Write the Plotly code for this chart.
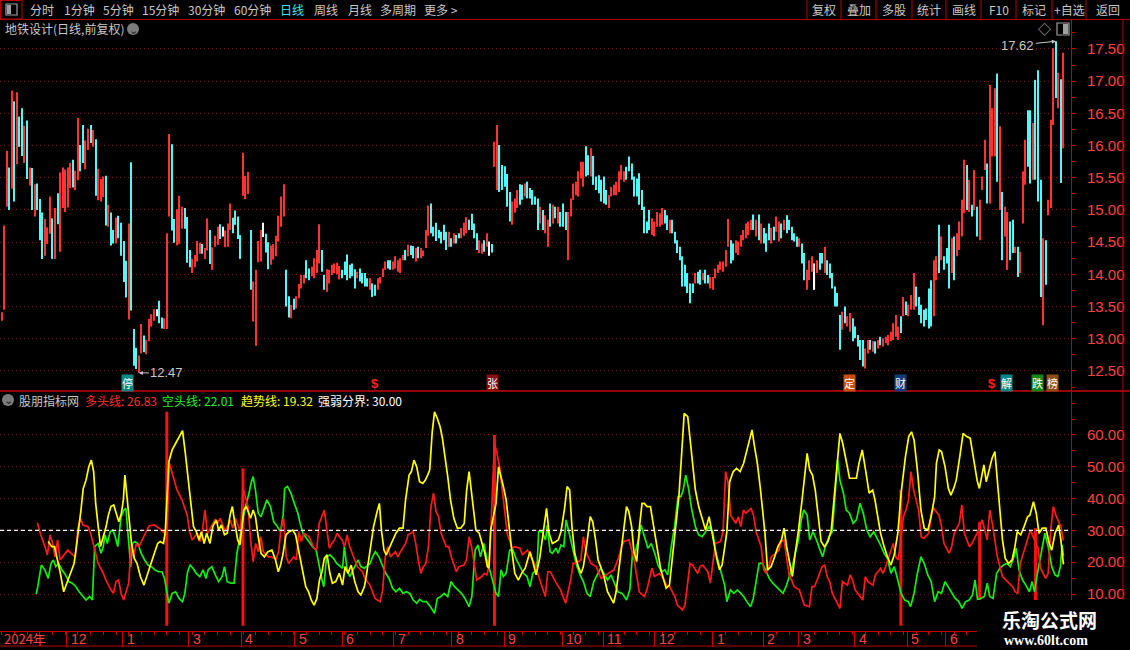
import plotly.graph_objects as go

W, H = 1130, 650

# ---------------- price data (daily bars) ----------------
highs = [
    13.41, 14.76, 15.92, 15.66, 16.85, 16.69, 16.83, 16.45, 16.58, 16.31,
    16.39, 15.66, 15.65, 15.40, 15.41, 15.17, 14.96, 14.86, 14.73, 15.21,
    14.87, 15.03, 15.26, 15.58, 15.66, 15.63, 15.66, 15.73, 15.78, 15.61,
    16.43, 16.01, 16.32, 16.08, 16.26, 16.32, 16.24, 16.10, 15.64, 15.48,
    15.52, 15.53, 15.08, 14.96, 14.69, 14.88, 14.91, 14.80, 14.52, 14.21,
    14.79, 15.74, 13.15, 12.86, 12.74, 13.23, 13.05, 12.98, 13.31, 13.38,
    13.46, 13.46, 13.59, 13.33, 13.32, 14.64, 16.18, 16.02, 14.86, 15.01,
    15.22, 15.05, 15.03, 14.89, 14.38, 14.24, 14.30, 14.52, 14.49, 14.47,
    14.41, 14.87, 14.69, 14.42, 14.60, 14.74, 14.78, 14.74, 14.68, 14.79,
    15.10, 14.88, 14.99, 14.90, 14.61, 15.89, 15.53, 15.59, 14.69, 13.89,
    14.07, 14.52, 14.69, 14.80, 14.63, 14.50, 14.45, 14.47, 14.60, 14.91,
    15.21, 15.40, 14.07, 13.66, 13.53, 13.62, 13.66, 13.85,
    13.99, 13.99, 14.22, 14.09, 14.12, 14.25, 14.38, 14.78, 14.38, 13.99,
    14.08, 14.07, 14.15, 14.17, 14.18, 14.13, 14.07, 14.20, 14.31, 14.15,
    14.17, 14.08, 14.04, 14.09, 14.02, 14.02, 13.94, 13.94, 13.86, 13.84,
    13.94, 13.96, 14.09, 14.20, 14.22, 14.22, 14.20, 14.28, 14.22, 14.25,
    14.30, 14.38, 14.46, 14.45, 14.44, 14.41, 14.43, 14.41, 14.37, 14.69,
    15.07, 15.10, 14.74, 14.80, 14.69, 14.66, 14.77, 14.66, 14.66, 14.56,
    14.64, 14.61, 14.64, 14.72, 14.80, 14.89, 14.85, 14.94, 14.79, 14.64,
    14.53, 14.48, 14.53, 14.64, 14.51, 14.47,
    16.06, 16.32, 16.01, 15.70, 15.68, 15.56, 15.28, 15.13, 15.18, 15.31,
    15.40, 15.39, 15.41, 15.44, 15.34, 15.31, 15.21, 15.18, 15.05, 15.00,
    14.92, 14.85, 15.10, 15.08, 15.05, 15.05, 14.97, 15.10, 14.97, 14.97,
    15.18, 15.41, 15.44, 15.60, 15.75, 15.75, 15.99, 15.85, 15.96, 15.84,
    15.52, 15.54, 15.47, 15.52, 15.31, 15.23, 15.36, 15.39, 15.44, 15.60,
    15.70, 15.60, 15.67, 15.83, 15.72, 15.52, 15.49, 15.57, 15.31, 15.05,
    14.82, 15.00, 14.87, 14.82, 14.97, 14.95, 15.03, 15.00, 14.92, 14.85,
    14.85, 14.66, 14.53, 14.43, 14.28, 14.15, 14.02, 13.86, 13.86, 14.02,
    14.04, 14.07, 14.02, 14.07, 13.99, 13.96, 13.96, 14.09, 14.15,
    14.20, 14.20, 14.38, 14.86, 14.53, 14.48, 14.53, 14.51, 14.61, 14.69,
    14.79, 14.82, 14.85, 14.93, 14.85, 14.93, 14.79, 14.72, 14.64, 14.79,
    14.72, 14.74, 14.90, 14.82, 14.79, 14.85, 14.92, 14.85, 14.74, 14.64,
    14.59, 14.56, 14.48, 14.33, 14.07, 14.22, 14.28, 14.17, 14.22, 14.33,
    14.33, 14.43, 14.22, 14.17, 14.02, 13.81, 13.71, 13.37, 13.42,
    13.50, 13.35, 13.40, 13.32, 13.19, 13.06, 12.98, 12.98, 12.85, 12.98,
    12.98, 12.96, 12.96, 12.98, 13.03, 13.01, 13.03, 13.06, 13.11, 13.24,
    13.37, 13.19, 13.35, 13.65, 13.58, 13.53, 13.68, 14.02, 13.81, 13.65,
    13.53, 13.45, 13.47, 13.78, 13.91, 14.22, 14.28, 14.77, 14.59, 14.28,
    14.41, 14.77, 14.56, 14.59, 14.64, 14.82, 15.16, 15.78, 15.70,
    15.47, 15.08, 15.62, 15.05, 15.16, 15.52, 16.09, 15.72, 16.94, 16.58,
    16.89, 17.12, 16.30, 15.28, 15.05, 14.97, 14.82, 14.85, 14.43, 14.43,
    14.35, 15.60, 16.09, 16.55, 16.55, 16.35, 17.02, 17.17, 15.47,
    14.56, 14.53, 15.16, 16.40, 17.51, 17.62, 17.13, 17.03, 17.44,
]
lows = [
    13.28, 13.45, 15.05, 15.00, 15.33, 15.13, 15.71, 15.98, 15.84, 15.73,
    15.48, 15.38, 15.00, 14.90, 15.00, 14.53, 14.24, 14.29, 14.47, 14.63,
    14.24, 14.24, 14.78, 14.35, 15.03, 14.97, 15.04, 15.34, 15.35, 15.31,
    15.46, 15.60, 15.73, 15.63, 15.93, 16.04, 15.98, 15.22, 15.15, 15.13,
    15.20, 14.76, 14.74, 14.45, 14.48, 14.48, 14.56, 14.29, 13.88, 13.64,
    13.30, 13.44, 12.58, 12.53, 12.47, 12.77, 12.79, 12.76, 12.96, 13.19,
    13.28, 13.35, 13.24, 13.16, 13.15, 13.15, 14.90, 14.68, 14.49, 14.45,
    14.47, 14.71, 14.71, 14.18, 14.11, 14.02, 14.11, 14.20, 14.32, 14.32,
    14.24, 14.37, 14.16, 14.07, 14.43, 14.46, 14.55, 14.59, 14.42, 14.43,
    14.69, 14.64, 14.77, 14.55, 14.24, 15.22, 15.17, 15.25, 13.76, 13.27,
    12.89, 14.19, 14.20, 14.58, 14.34, 14.08, 14.15, 14.23, 14.28, 14.51,
    14.74, 14.90, 13.50, 13.33, 13.32, 13.45, 13.47, 13.63,
    13.78, 13.86, 13.94, 13.91, 13.97, 13.94, 14.02, 14.17, 14.04, 13.76,
    13.73, 13.86, 13.99, 14.02, 14.00, 13.92, 13.94, 13.99, 13.91, 13.94,
    13.97, 13.78, 13.94, 13.89, 13.86, 13.81, 13.81, 13.76, 13.65, 13.67,
    13.76, 13.86, 13.96, 14.07, 14.09, 14.07, 14.07, 14.09, 14.04, 14.02,
    14.22, 14.22, 14.28, 14.30, 14.25, 14.20, 14.25, 14.25, 14.28, 14.41,
    14.60, 14.64, 14.59, 14.52, 14.56, 14.48, 14.53, 14.38, 14.43, 14.43,
    14.48, 14.48, 14.56, 14.56, 14.60, 14.64, 14.69, 14.69, 14.56, 14.38,
    14.33, 14.32, 14.35, 14.43, 14.29, 14.34,
    15.67, 15.31, 15.28, 15.31, 15.36, 15.05, 14.82, 14.77, 14.96, 15.03,
    15.08, 15.16, 15.21, 15.18, 15.18, 15.08, 15.08, 14.69, 14.79, 14.69,
    14.64, 14.43, 14.74, 14.79, 14.87, 14.79, 14.74, 14.74, 14.69, 14.22,
    14.90, 15.16, 15.23, 15.21, 15.49, 15.36, 15.52, 15.54, 15.52, 15.39,
    15.31, 15.26, 15.13, 15.10, 15.08, 15.03, 15.21, 15.23, 15.23, 15.28,
    15.47, 15.44, 15.47, 15.60, 15.47, 15.21, 15.21, 15.08, 15.00, 14.64,
    14.64, 14.69, 14.61, 14.59, 14.74, 14.74, 14.77, 14.79, 14.69, 14.64,
    14.64, 14.48, 14.33, 14.22, 13.81, 13.81, 13.71, 13.55, 13.71, 13.86,
    13.86, 13.84, 13.91, 13.86, 13.86, 13.78, 13.76, 13.94, 14.02,
    14.07, 14.04, 14.12, 14.43, 14.17, 14.22, 14.33, 14.30, 14.43, 14.53,
    14.56, 14.61, 14.69, 14.69, 14.59, 14.53, 14.48, 14.48, 14.35, 14.53,
    14.48, 14.53, 14.66, 14.51, 14.56, 14.69, 14.64, 14.69, 14.53, 14.51,
    14.43, 14.43, 14.17, 13.91, 13.76, 13.91, 14.04, 13.76, 14.02, 14.07,
    14.17, 14.02, 13.99, 13.94, 13.78, 13.50, 13.50, 12.83, 13.14,
    13.24, 13.19, 13.11, 12.96, 13.01, 12.88, 12.67, 12.57, 12.54, 12.77,
    12.83, 12.80, 12.77, 12.85, 12.90, 12.88, 12.93, 12.90, 12.96, 12.98,
    13.03, 12.98, 13.09, 13.35, 13.37, 13.35, 13.45, 13.45, 13.50, 13.37,
    13.24, 13.19, 13.29, 13.16, 13.19, 13.35, 13.91, 14.02, 14.22, 14.07,
    14.17, 13.78, 14.02, 13.91, 14.28, 14.38, 14.59, 14.95, 15.00,
    14.97, 14.90, 15.00, 14.59, 14.53, 15.31, 15.62, 15.10, 15.10, 15.83,
    15.83, 15.44, 15.00, 14.22, 14.59, 14.07, 14.22, 14.33, 14.33, 13.96,
    14.02, 14.79, 15.39, 15.67, 15.41, 15.47, 15.47, 15.13, 13.65,
    13.21, 13.84, 14.92, 15.03, 16.32, 16.74, 16.58, 15.42, 15.96,
]
# r = up (red), c = down (cyan), w = flat (white)
dirs = (
    "rrrcrcrccr" "crcrcccrrr" "crcrrrrrcr" "rccrrcrcrr" "rcrccrcccc" "rcccrrcrrr"
    "rwccrrrccr" "rrcccrrrrc" "rrcrrrcwrr" "rccccrrrcr" "rrrwccrrrr" "rrccrcrr"
    "rrccrrrrcc" "rrrrrrcccc" "ccrccccrcc" "rrrrccrrrr" "rcrccrcrrr" "rcccccccrc"
    "rccrrrcccc" "rrcrwc"
    "rrcccccrrr" "ccrcccccrc" "rrcrcrcccr" "rrrrrrccrc" "cccccrrrrr" "rrcccccccc"
    "ccrrrrrccr" "cccccccccr" "ccrccrrrr" "rrrrccrrrr" "rrrcrcrccc" "rcrrcrcccc"
    "crccrrrwrc" "crccccccr" "crrcccccrr" "crcrcrrrrr" "rrcrcrrrcc" "cccccrrcrc"
    "ccrcrrrrc" "rcrcrrrcrr" "rcrcrrccrc" "rrrccrccc" "rcrrrcrcr"
)
price_ticks = [12.5, 13.0, 13.5, 14.0, 14.5, 15.0, 15.5, 16.0, 16.5, 17.0, 17.5]

# month boundaries (bar index) and labels
month_pos = [25.6, 47.6, 73.7, 94.4, 115.4, 134.1, 154.3, 177.1, 197.9, 220.7,
             236.9, 257.1, 279.9, 299.9, 313.7, 335.9, 356.6, 371.7]
month_txt = ["12", "1", "3", "4", "5", "6", "7", "8", "9", "10",
             "11", "12", "1", "2", "3", "4", "5", "6"]

# signal markers under the price panel
marker_x = [49.5, 147, 193.3, 333.8, 353.9, 390, 395.6, 407.6, 413.7]
marker_txt = ["停", "$", "张", "定", "财", "$", "解", "跌", "榜"]

# ---------------- indicator data ----------------
red_x = [14, 15, 17, 18, 19, 20, 21, 22, 23, 24, 26, 28, 29, 30, 31, 32, 34, 35, 37, 38,
         40, 41, 43, 44, 45, 46, 47, 48, 50, 51, 52, 53, 54, 56, 58, 60, 62, 63, 65, 66,
         68, 69, 71, 73, 74, 75, 77, 78, 79, 80, 81, 83, 84, 85, 86, 88, 89, 90, 91, 92,
         94, 95, 97, 98, 99, 100, 101, 102, 103, 105, 106, 108, 109, 110, 111, 112, 113, 115, 116, 117,
         118, 119, 121, 123, 124, 125, 127, 128, 129, 130, 131, 132, 134, 135, 136, 137, 139, 140, 142, 143,
         145, 146, 147, 149, 150, 151, 152, 153, 155, 156, 157, 159, 160, 162, 163, 164, 165, 166, 167, 168,
         169, 170, 171, 172, 173, 175, 176, 177, 179, 180, 182, 183, 184, 185, 186, 187, 189, 190, 191, 192,
         194, 195, 196, 197, 198, 199, 201, 202, 204, 205, 207, 208, 210, 211, 212,
         214, 215, 216, 218, 220, 222, 224, 225, 226, 228, 229, 230, 232, 234, 236, 237, 239, 241, 243, 244,
         245, 247, 248, 249, 251, 253, 254, 256, 257, 259, 260, 262, 263, 265, 266, 268, 269, 270, 271, 272,
         274, 275, 276, 278, 279, 281, 283, 284, 285, 286, 287, 289, 290, 291, 292, 293, 295, 296, 297, 299,
         300, 301, 302, 303, 304, 306, 307, 308, 310, 311, 312, 314, 315, 316, 318, 319, 320, 321, 323, 324,
         325, 326, 327, 329, 330, 331, 333, 334, 335, 336, 338, 339, 340, 341, 343, 344, 346, 347, 348, 350,
         351, 352, 353, 355, 356, 357, 358, 359, 361, 362, 363, 365, 366, 367, 369, 370, 371, 373, 374, 375,
         377, 378, 379, 381, 382, 384, 386, 388, 389, 390, 392, 393, 394, 396, 398, 399, 400, 401, 403, 404,
         405, 408, 409, 411, 412, 413, 414, 415, 417, 418]
red_v = [32.4, 29.6, 24.9, 22.3, 28.6, 26.1, 21.7, 27.0, 20.7, 21.7, 23.8, 22.3, 21.7, 30.7, 33.8, 31.7, 31.2, 29.1, 22.8, 19.6,
         16.5, 14.4, 11.3, 10.2, 13.9, 14.4, 10.2, 8.1, 13.4, 25.9, 21.7, 25.9, 24.9, 28.0, 31.4, 31.7, 30.7, 29.9, 28.6, 51.1,
         45.8, 42.7, 39.6, 34.8, 29.6, 27.0, 29.1, 26.5, 29.6, 36.4, 29.1, 31.7, 33.3, 32.2, 33.8, 29.6, 31.7, 33.3, 30.7, 33.8,
         29.6, 43.2, 37.5, 27.0, 20.2, 25.9, 23.3, 28.0, 23.3, 21.7, 21.7, 20.9, 23.3, 30.7, 33.8, 21.7, 19.6, 21.7, 20.7, 29.6,
         26.5, 29.1, 28.0, 24.4, 23.8, 32.2, 36.4, 30.7, 24.4, 25.9, 27.0, 29.1, 27.0, 24.9, 28.6, 24.9, 20.7, 18.6, 17.0, 14.9,
         12.8, 10.7, 8.6, 7.6, 11.3, 21.7, 24.9, 21.7, 23.3, 21.7, 23.3, 25.9, 28.6, 29.6, 25.9, 20.7, 16.5, 18.6, 19.6, 24.9,
         37.5, 41.7, 35.9, 34.3, 29.1, 24.9, 24.9, 21.7, 17.0, 18.6, 19.1, 20.7, 28.0, 24.9, 19.6, 14.4, 15.5, 16.5, 16.0, 19.1,
         57.4, 54.2, 50.0, 43.8, 36.4, 29.1, 24.4, 24.9, 24.4, 22.3, 23.8, 22.3, 19.1, 16.5, 13.9,
         9.2, 17.0, 17.0, 13.9, 11.3, 7.1, 14.4, 19.6, 19.6, 20.7, 28.0, 23.3, 19.6, 18.6, 14.9, 15.5, 16.5, 17.6, 21.7, 24.9,
         26.5, 27.0, 23.8, 20.7, 10.7, 9.2, 11.3, 18.1, 15.5, 16.5, 15.5, 12.3, 12.3, 9.2, 6.5, 5.0, 6.5, 13.4, 19.6, 19.1,
         16.5, 18.6, 19.1, 17.0, 13.4, 25.9, 26.5, 29.6, 48.5, 44.8, 34.8, 32.2, 34.3, 31.2, 36.4, 35.4, 36.9, 34.8, 29.6, 24.9,
         17.6, 16.5, 18.6, 21.7, 22.3, 23.8, 26.5, 27.0, 16.0, 14.4, 12.3, 11.3, 9.2, 6.5, 6.0, 12.3, 12.3, 14.4, 18.6, 19.1,
         15.5, 13.9, 10.2, 7.1, 5.5, 13.9, 12.8, 16.0, 14.4, 11.3, 9.2, 8.1, 15.5, 13.9, 12.8, 16.0, 18.1, 16.5, 18.6, 23.3,
         25.9, 21.7, 20.7, 34.3, 36.4, 39.6, 48.5, 42.7, 36.4, 28.0, 27.5, 29.1, 35.4, 36.9, 34.8, 31.2, 25.9, 22.8, 24.9, 29.1,
         32.2, 38.0, 29.1, 24.9, 25.9, 29.1, 33.3, 27.0, 36.4, 32.2, 21.7, 18.6, 15.5, 13.9, 12.3, 10.7, 10.2, 19.6, 24.9, 27.5,
         30.1, 24.4, 18.1, 14.9, 16.5, 30.1, 37.5, 34.8, 31.2, 26.83]

green_x = [13.6, 14.2, 15.6, 17.0, 18.3, 19.4, 20.3, 21.3, 22.4, 23.7, 25.1, 26.4, 27.8, 29.2, 30.5, 31.9, 33.2, 34.6, 35.7, 36.6,
           38.0, 39.1, 40.0, 40.7, 41.6, 42.7, 43.8, 44.7, 45.7, 47.0, 48.1, 48.9, 49.8, 50.8, 51.5, 52.5, 53.6, 54.9, 56.3, 57.6,
           59.0, 60.3, 61.7, 63.1, 64.1, 65.8, 67.1, 68.5, 69.8, 71.2, 72.1, 73.2, 74.2, 75.3, 76.6, 78.0, 79.3, 80.4, 81.3, 82.7,
           84.1, 85.4, 86.8, 87.7, 88.8, 90.2, 91.5, 92.6, 93.6, 94.9, 96.3, 97.2, 98.3, 99.0, 99.9, 101.0, 102.1, 103.0, 104.4, 105.8,
           107.1, 108.5, 109.8, 110.8, 111.4, 112.5, 113.9, 115.2, 116.6, 117.5, 118.6, 120.0, 121.3, 122.4, 123.8, 125.1, 126.1, 126.8, 127.9, 129.2,
           130.6, 131.9, 133.3, 134.2, 134.9, 136.0, 137.0, 138.3, 139.2, 140.3, 141.4, 142.8, 144.1, 145.1, 146.0, 147.1, 148.5, 149.8, 151.2, 152.5,
           153.9, 155.2, 156.6, 158.0, 159.3, 160.7, 162.0, 163.4, 164.5, 165.8, 167.2, 168.8, 170.4, 171.5, 172.9, 174.2, 175.6, 176.9, 178.3, 179.6,
           181.0, 182.4, 184.0, 185.1, 186.4, 187.5, 188.5, 189.8, 191.2, 192.5, 194.6, 195.6, 196.6, 197.5, 198.6, 200.0, 201.3, 202.7, 204.0, 205.4,
           206.8, 208.0, 209.1, 210.7, 211.4, 212.7, 214.1, 214.8, 215.9, 216.8, 218.2, 219.1, 220.2, 221.3, 222.2, 223.3, 224.9, 226.3, 227.7, 229.0,
           230.4, 231.7, 233.1, 234.4, 235.8, 237.1, 238.5, 239.9, 241.2, 242.6, 244.3, 246.0, 247.3, 248.4, 249.3, 250.7, 251.7, 253.0, 254.4, 255.7,
           257.1, 258.4, 259.8, 261.1, 262.2, 263.6, 264.9, 266.3, 267.4, 268.3, 269.3, 270.4, 271.7, 273.1, 274.4, 275.8, 277.1, 278.5, 279.9, 281.2,
           282.3, 283.2, 284.6, 285.5, 286.9, 288.3, 289.6, 291.0, 292.1, 293.4, 294.8, 295.9, 296.8, 298.2, 299.5, 300.9, 302.2, 303.6, 304.9, 306.3,
           307.6, 309.0, 310.4, 311.3, 312.4, 313.7, 314.8, 315.8, 317.1, 318.1, 319.4, 320.8, 322.2, 323.2, 324.3, 325.7, 327.0, 328.1, 329.1, 330.0,
           331.4, 332.5, 333.8, 335.2, 336.5, 337.9, 339.2, 340.6, 341.9, 343.3, 344.7, 346.0, 347.4, 348.7, 350.1, 351.4, 352.8, 354.1, 355.5, 356.9,
           357.8, 359.2, 360.5, 361.9, 363.2, 364.6, 365.9, 367.3, 368.7, 370.0, 371.4, 372.7, 374.1, 375.4, 376.8, 378.1, 379.5, 380.9, 382.2, 383.2,
           384.2, 385.6, 386.9, 388.0, 389.0, 390.3, 391.7, 393.0, 394.4, 395.8, 397.1, 398.5, 399.4, 400.5, 401.9, 403.2, 404.6, 405.7, 406.6, 408.0,
           409.3, 410.7, 412.0, 413.4, 414.7, 415.8, 416.8, 417.5, 418.0]
green_v = [10.0, 12.3, 19.1, 17.6, 14.9, 19.6, 20.7, 18.6, 19.6, 17.6, 16.0, 13.9, 13.4, 12.3, 10.7, 9.2, 8.1, 9.2, 8.1, 24.9,
           25.9, 22.8, 24.9, 28.6, 25.9, 29.6, 30.1, 28.0, 24.9, 34.3, 36.4, 36.9, 27.0, 18.6, 25.9, 26.5, 25.9, 22.8, 20.7, 19.1,
           18.6, 17.6, 17.0, 17.0, 14.9, 7.1, 10.2, 10.7, 8.6, 7.6, 10.2, 17.0, 19.1, 18.1, 16.5, 15.5, 17.6, 14.9, 17.6, 18.6,
           16.0, 13.9, 15.5, 18.6, 13.9, 13.4, 13.4, 22.8, 27.0, 33.3, 38.5, 41.1, 45.3, 46.9, 42.7, 35.4, 34.3, 36.4, 39.6, 37.5,
           32.7, 31.2, 29.6, 34.8, 43.2, 43.8, 41.7, 38.5, 35.4, 32.2, 29.1, 27.5, 25.9, 24.9, 23.8, 18.1, 14.4, 12.3, 21.7, 22.3,
           21.2, 19.6, 18.6, 18.1, 24.9, 17.6, 15.5, 17.6, 19.1, 20.7, 18.6, 18.1, 19.1, 19.6, 21.7, 23.3, 21.7, 19.1, 16.5, 14.9,
           11.8, 10.7, 11.8, 10.2, 10.7, 10.2, 8.1, 7.1, 8.3, 7.6, 7.6, 6.0, 3.9, 8.6, 9.2, 10.2, 9.2, 13.9, 12.3, 11.3,
           10.2, 8.6, 6.0, 9.2, 23.8, 25.4, 21.7, 25.9, 20.2, 16.5, 10.2, 9.2, 17.6, 15.5, 16.5, 23.8, 23.8, 20.7, 18.6, 16.5,
           15.5, 12.3, 16.5, 17.6, 29.6, 29.6, 27.0, 31.7, 23.3, 22.8, 24.4, 22.8, 25.4, 24.9, 33.3, 29.6, 23.3, 19.1, 16.0, 13.9,
           10.2, 9.2, 13.9, 16.0, 18.1, 16.5, 14.4, 16.0, 13.4, 10.7, 10.2, 8.1, 11.3, 23.3, 22.8, 27.0, 31.7, 28.0, 24.4, 25.9,
           22.8, 19.1, 17.0, 17.6, 16.0, 24.9, 31.2, 40.6, 40.6, 42.7, 47.4, 43.2, 36.4, 31.2, 28.6, 28.0, 29.6, 31.2, 29.6, 22.8,
           19.6, 17.0, 12.8, 7.6, 11.3, 10.2, 11.3, 10.2, 9.2, 7.6, 6.0, 8.6, 12.8, 19.6, 19.6, 17.0, 14.9, 13.4, 12.3, 11.3,
           10.2, 12.8, 16.5, 18.6, 22.8, 27.0, 33.3, 36.4, 34.8, 27.0, 29.6, 27.0, 23.8, 21.7, 24.9, 28.0, 29.6, 40.6, 52.1, 45.8,
           41.7, 36.4, 35.4, 32.2, 33.3, 38.5, 35.4, 30.1, 28.0, 29.6, 27.5, 25.4, 22.8, 21.2, 16.5, 18.6, 14.4, 10.2, 8.1, 7.6,
           6.0, 10.2, 16.5, 21.7, 19.6, 16.0, 13.9, 7.6, 10.7, 10.2, 13.9, 12.3, 10.2, 8.6, 7.6, 5.5, 7.6, 8.1, 9.7, 14.4,
           8.1, 8.6, 9.2, 13.4, 9.2, 8.6, 16.5, 18.1, 19.1, 19.6, 18.6, 21.7, 24.4, 17.6, 14.4, 12.8, 10.7, 13.9, 10.7, 17.6,
           23.3, 29.1, 24.9, 18.6, 16.0, 15.5, 18.6, 25.4, 22.01]

yellow_x = [18.3, 19.7, 20.8, 21.7, 23.1, 24.4, 25.8, 27.1, 28.5, 29.4, 30.2, 31.2, 32.1, 33.2, 34.3, 35.3, 36.2, 37.0, 38.0, 38.9,
            40.0, 41.1, 42.0, 43.0, 44.1, 45.2, 46.1, 47.1, 47.9, 48.5, 49.5, 50.2, 51.1, 52.2, 53.3, 54.6, 56.0, 57.3, 58.7, 60.1,
            61.4, 62.4, 63.7, 64.4, 65.8, 67.1, 68.5, 69.8, 71.2, 72.3, 73.6, 74.6, 75.5, 76.6, 77.7, 78.6, 79.7, 80.7, 82.0, 83.1,
            84.5, 85.4, 86.5, 87.7, 88.8, 89.9, 90.8, 91.8, 92.9, 93.8, 95.3, 96.3, 97.2, 98.0, 99.0, 99.9, 101.0, 102.1, 103.4, 104.8,
            106.4, 107.8, 108.9, 109.8, 110.8, 111.9, 113.2, 114.6, 115.7, 116.6, 117.5, 118.6, 119.7, 120.8, 121.9, 123.0, 124.1, 125.1, 126.1, 127.0,
            128.1, 129.2, 130.2, 131.5, 132.9, 134.2, 135.2, 136.3, 137.6, 139.0, 140.3, 141.4, 142.8, 143.7, 145.1, 146.4, 147.8, 148.7, 149.5, 150.5,
            151.4, 152.5, 153.9, 155.2, 156.6, 158.0, 159.0, 160.4, 161.3, 162.3, 163.4, 164.5, 165.8, 166.8, 167.7, 168.5, 169.5, 170.4, 171.5, 172.6,
            173.5, 174.5, 175.6, 176.7, 178.0, 179.4, 180.7, 182.1, 183.0, 184.0, 184.8, 185.7, 186.7, 188.0, 189.1, 190.2, 191.2, 191.8, 192.5, 194.6,
            195.6, 196.6, 197.5, 198.6, 199.7, 200.8, 202.0, 203.4, 204.7, 206.1, 207.4,
            208.0, 209.1, 210.4, 211.8, 213.2, 214.5, 215.5, 216.8, 218.2, 219.1, 220.2, 221.6, 222.6, 223.6, 224.5, 225.6, 227.0, 228.1, 229.0, 230.4,
            231.7, 232.7, 233.8, 234.8, 235.8, 237.1, 238.5, 239.9, 240.9, 241.9, 243.0, 243.9, 244.9, 246.0, 246.9, 248.0, 248.9, 250.0, 251.1, 252.1,
            253.0, 254.1, 255.4, 256.5, 257.5, 258.4, 259.5, 260.6, 261.6, 262.9, 264.3, 265.6, 266.6, 267.7, 268.7, 270.1, 271.0, 272.0, 273.1, 274.4,
            275.8, 277.1, 278.5, 279.6, 280.5, 281.5, 282.6, 283.6, 284.6, 285.5, 286.6, 288.0, 289.3, 290.7, 292.1, 293.4, 294.5, 295.4, 296.4, 297.5,
            298.6, 299.5, 300.5, 301.5, 302.9, 304.3, 305.6, 307.0, 308.0, 309.0, 310.4, 311.3, 312.4, 313.7, 315.1, 316.2, 317.1, 318.1, 319.2, 320.3,
            321.2, 322.6, 323.9, 325.3, 326.6, 327.6, 328.7, 330.0, 331.1, 332.5, 333.8, 335.4, 336.5, 337.5, 338.8, 340.2, 341.5, 342.9, 343.8, 344.9,
            346.0, 347.4, 348.7, 350.1, 351.4, 352.8, 354.1, 355.8, 357.1, 358.2, 359.2, 360.5, 361.9, 363.2, 364.6, 365.9, 367.3, 368.0, 369.1, 370.0,
            371.4, 372.7, 373.7, 374.8, 375.8, 377.2, 378.5, 379.9, 381.3, 382.6, 384.0, 384.9, 385.9, 386.7, 387.6, 389.0, 389.9, 391.0, 392.1, 393.1,
            394.0, 395.1, 396.4, 397.8, 398.9, 399.8, 401.2, 402.5, 403.9, 404.8, 406.2, 407.3, 408.4, 409.7, 411.1, 412.4, 413.4, 414.7, 416.1, 417.0,
            418.0]
yellow_v = [26.5, 24.9, 24.9, 21.7, 16.5, 10.7, 13.9, 17.0, 19.6, 24.9, 29.6, 36.4, 43.2, 45.8, 50.0, 52.1, 48.5, 38.5, 31.2, 24.9,
            28.0, 31.2, 34.8, 37.5, 38.0, 34.8, 32.7, 35.4, 39.6, 47.4, 39.6, 32.7, 25.9, 21.2, 19.6, 15.5, 12.8, 16.0, 19.1, 22.8,
            25.9, 26.5, 25.9, 29.6, 51.6, 55.3, 57.4, 59.5, 61.4, 54.2, 45.3, 37.5, 31.2, 29.6, 27.0, 29.6, 25.9, 29.1, 25.9, 31.2,
            33.3, 30.1, 31.7, 28.6, 29.1, 34.8, 37.5, 32.2, 27.0, 25.4, 36.4, 37.5, 35.4, 33.8, 36.4, 34.3, 28.0, 22.8, 21.7, 23.3,
            23.8, 20.7, 17.0, 19.1, 22.8, 28.6, 29.6, 30.1, 28.6, 24.9, 20.7, 16.5, 12.3, 10.7, 8.1, 6.5, 8.6, 14.4, 17.0, 21.2,
            22.3, 16.5, 13.4, 13.9, 16.5, 12.8, 18.6, 16.5, 19.1, 13.9, 10.7, 9.7, 12.3, 16.5, 23.8, 31.2, 35.9, 38.5, 30.1, 23.8,
            22.3, 24.4, 27.0, 29.1, 30.7, 30.7, 39.6, 47.4, 48.5, 52.1, 50.0, 45.3, 44.8, 45.8, 47.4, 49.0, 61.0, 67.3, 65.2, 62.6,
            59.0, 53.7, 46.9, 39.6, 33.8, 30.7, 30.7, 32.2, 42.2, 48.5, 43.2, 37.5, 30.1, 29.1, 25.9, 22.8, 18.6, 18.1, 30.1, 38.5,
            50.0, 46.9, 43.8, 39.6, 31.2, 23.8, 16.5, 14.4, 16.5, 18.1, 21.7,
            23.3, 20.2, 16.0, 21.2, 29.1, 36.9, 29.1, 25.9, 26.5, 27.0, 29.6, 36.9, 43.8, 42.7, 31.2, 22.8, 18.6, 16.5, 18.6, 25.9,
            34.3, 32.7, 27.0, 20.7, 18.6, 15.5, 10.7, 8.6, 7.1, 10.7, 17.6, 23.8, 29.1, 37.5, 35.9, 31.2, 23.3, 20.2, 31.2, 38.5,
            38.5, 37.5, 37.5, 31.7, 27.5, 22.8, 17.6, 14.9, 11.8, 12.8, 23.8, 33.3, 40.6, 54.2, 66.8, 65.8, 58.4, 50.0, 42.7, 37.5,
            33.3, 30.1, 34.3, 29.1, 24.9, 21.2, 17.6, 19.1, 24.4, 29.6, 45.3, 48.5, 49.5, 48.5, 51.1, 55.3, 58.4, 61.6, 56.3, 51.1,
            43.8, 36.4, 29.1, 17.6, 18.6, 21.7, 24.9, 27.0, 30.7, 24.9, 18.6, 15.5, 22.8, 30.1, 39.6, 47.4, 54.2, 49.0, 47.4, 42.7,
            36.9, 26.5, 24.9, 26.5, 30.1, 39.6, 50.0, 60.5, 57.4, 51.6, 46.4, 46.4, 46.4, 51.1, 55.3, 48.5, 41.7, 42.7, 39.6, 34.3,
            29.1, 24.9, 21.7, 19.1, 22.3, 29.1, 41.7, 53.2, 59.5, 61.0, 58.4, 49.0, 36.4, 30.7, 30.1, 34.3, 40.6, 51.1, 55.3, 54.8,
            50.0, 43.2, 41.1, 43.2, 45.8, 53.2, 60.5, 59.5, 59.0, 52.7, 45.8, 43.2, 47.9, 50.6, 45.3, 50.0, 52.7, 54.8, 44.8, 35.4,
            27.0, 21.2, 19.6, 20.7, 24.9, 29.6, 28.6, 31.2, 34.3, 34.8, 39.0, 35.4, 29.1, 30.7, 30.7, 25.9, 23.8, 29.1, 31.7, 27.0,
            19.32]

stick_x = [65, 95, 194, 354, 385, 407]
stick_top = [67.3, 49.5, 60.0, 42.7, 32.7, 30.7]
ind_ticks = [10, 20, 30, 40, 50, 60]
last_vals = [26.83, 22.01, 19.32]
threshold = 30.00

# ---------------- figure ----------------
assert len(highs) == len(lows) == len(dirs), (len(highs), len(lows), len(dirs))
assert len(red_x) == len(red_v) and len(green_x) == len(green_v) and len(yellow_x) == len(yellow_v)


def px(x):
    return x / W


def py(y):
    return 1 - y / H


XD = 1071 / W
X_RANGE = [-0.67, 420.98]
CJK = "Noto Sans CJK SC"
NUM = "Liberation Sans Narrow, Liberation Sans, Arial"
AX_RED = "#c80000"
LBL_RED = "#ff4040"
GRID = "#8c1212"

candle_col = {"r": "#ff3232", "c": "#54f6f6", "w": "#ffffff"}
n = len(highs)

fig = go.Figure()
fig.add_trace(go.Bar(x=list(range(n)), y=[h - l for h, l in zip(highs, lows)], base=lows,
                     width=0.45, marker=dict(color=[candle_col[d] for d in dirs], line=dict(width=0)),
                     xaxis="x", yaxis="y", hoverinfo="skip"))
fig.add_trace(go.Bar(x=stick_x, y=stick_top, width=1.15,
                     marker=dict(color="#ff1010", line=dict(width=0)),
                     xaxis="x2", yaxis="y2", hoverinfo="skip"))
for xs, vs, col in [(green_x, green_v, "#12ee12"), (red_x, red_v, "#ff1a1a"),
                    (yellow_x, yellow_v, "#ffff00")]:
    fig.add_trace(go.Scatter(x=xs, y=vs, mode="lines", line=dict(color=col, width=1.7),
                             xaxis="x2", yaxis="y2", hoverinfo="skip"))

fig.update_layout(
    width=W, height=H, margin=dict(l=0, r=0, t=0, b=0),
    paper_bgcolor="black", plot_bgcolor="black", showlegend=False, barmode="overlay",
    font=dict(family=CJK, size=12, color="#c8c8c8"),
    xaxis=dict(domain=[0, XD], range=X_RANGE, anchor="y", visible=False),
    yaxis=dict(domain=[py(391), py(20)], range=[12.189, 17.95], anchor="x", side="right",
               tickmode="array", tickvals=price_ticks,
               ticktext=[f"{v:.2f}" for v in price_ticks],
               ticks="outside", ticklen=4, tickcolor=AX_RED,
               showline=True, linecolor=AX_RED, linewidth=1,
               showgrid=True, gridcolor=GRID, griddash="1px,3px", gridwidth=1, zeroline=False,
               tickfont=dict(family=NUM, size=15, color=LBL_RED), ticklabelstandoff=8,
               minor=dict(dtick=0.25, tick0=0, ticks="outside", ticklen=3, tickcolor=AX_RED, showgrid=False)),
    xaxis2=dict(domain=[0, XD], range=X_RANGE, anchor="y2", showgrid=False, zeroline=False,
                showline=True, linecolor=AX_RED, ticks="outside", tickmode="array",
                tickvals=month_pos, ticklen=15, tickcolor=AX_RED, showticklabels=False,
                minor=dict(dtick=5, tick0=0, ticks="outside", ticklen=3, tickcolor=AX_RED)),
    yaxis2=dict(domain=[py(631), py(392)], range=[-1.635, 73.52], anchor="x2", side="right",
                tickmode="array", tickvals=ind_ticks, ticktext=[f"{v:.2f}" for v in ind_ticks],
                ticks="outside", ticklen=4, tickcolor=AX_RED,
                showline=True, linecolor=AX_RED, linewidth=1,
                showgrid=True, gridcolor=GRID, griddash="1px,3px", gridwidth=1, zeroline=False,
                tickfont=dict(family=NUM, size=15, color=LBL_RED), ticklabelstandoff=8,
                minor=dict(dtick=5, tick0=0, ticks="outside", ticklen=3, tickcolor=AX_RED, showgrid=False)),
)

shapes = []
line_red = dict(color="#b40000", width=1)
# frame lines
shapes.append(dict(type="line", xref="paper", yref="paper", x0=0, x1=1, y0=py(19.5), y1=py(19.5), line=line_red))
shapes.append(dict(type="line", xref="paper", yref="paper", x0=0, x1=1, y0=py(391), y1=py(391),
                   line=dict(color="#c80000", width=1.3)))
shapes.append(dict(type="line", xref="paper", yref="paper", x0=0, x1=px(977), y0=py(646), y1=py(646), line=line_red))
shapes.append(dict(type="line", xref="paper", yref="paper", x0=px(1123), x1=px(1123), y0=py(20), y1=py(600), line=line_red))
# toolbar boxes
shapes.append(dict(type="rect", xref="paper", yref="paper", x0=px(0.5), x1=px(22), y0=py(19), y1=py(0.5), line=line_red))
shapes.append(dict(type="rect", xref="paper", yref="paper", x0=px(6), x1=px(17), y0=py(15), y1=py(4),
                   line=dict(color="#a0a0a0", width=1.2)))
shapes.append(dict(type="rect", xref="paper", yref="paper", x0=px(7), x1=px(11), y0=py(14), y1=py(5),
                   fillcolor="#a0a0a0", line=dict(width=0)))
for sx in [807, 841, 876, 912, 946, 981, 1016, 1052, 1086]:
    shapes.append(dict(type="line", xref="paper", yref="paper", x0=px(sx), x1=px(sx), y0=py(19), y1=py(0), line=line_red))
# top-right small box icon
shapes.append(dict(type="rect", xref="paper", yref="paper", x0=px(1057), x1=px(1069), y0=py(35), y1=py(23),
                   line=dict(color="#a0a0a0", width=1.2)))
shapes.append(dict(type="rect", xref="paper", yref="paper", x0=px(1063), x1=px(1068), y0=py(34), y1=py(24),
                   fillcolor="#a0a0a0", line=dict(width=0)))
# round chevron icons
for cx, cy in [(133, 29), (8, 400)]:
    shapes.append(dict(type="circle", xref="paper", yref="paper", x0=px(cx - 6), x1=px(cx + 6),
                       y0=py(cy + 6), y1=py(cy - 6), fillcolor="#7c7c7c", line=dict(width=0)))
# strength threshold line
shapes.append(dict(type="line", xref="x2 domain", yref="y2", x0=0, x1=1, y0=threshold, y1=threshold,
                   line=dict(color="#ffffff", width=1.3, dash="4px,3px")))
# watermark block
shapes.append(dict(type="rect", xref="paper", yref="paper", x0=px(977), x1=1, y0=0, y1=py(600),
                   fillcolor="black", line=dict(width=0), layer="above"))

ann = []


def text(x, y, s, color="#c8c8c8", size=12, anchor="left", family=CJK, **kw):
    ann.append(dict(xref="paper", yref="paper", x=px(x), y=py(y), text=s, showarrow=False,
                    xanchor=anchor, yanchor="middle", font=dict(family=family, size=size, color=color), **kw))


for s, x in [("分时", 28), ("1分钟", 62), ("5分钟", 101), ("15分钟", 140), ("30分钟", 186),
             ("60分钟", 232), ("周线", 312), ("月线", 346), ("多周期", 378), ("更多 >", 422)]:
    text(x, 10, s)
text(278, 10, "日线", color="#3ce6ee")
for s, x in [("复权", 824), ("叠加", 859), ("多股", 894), ("统计", 929), ("画线", 964),
             ("F10", 999), ("标记", 1034), ("+自选", 1069), ("返回", 1108)]:
    text(x, 10, s, anchor="center")

text(3, 29, "地铁设计(日线,前复权)")
text(133, 29, "⌄", color="#202020", size=11, anchor="center")
text(8, 399, "⌄", color="#202020", size=11, anchor="center")
text(1044, 29, "◇", color="#b0b0b0", size=13, anchor="center")

# indicator legend
text(17, 400, "股朋指标网")
text(83, 400, f"多头线: {last_vals[0]:.2f}", color="#ff2c2c")
text(160, 400, f"空头线: {last_vals[1]:.2f}", color="#22f022")
text(239, 400, f"趋势线: {last_vals[2]:.2f}", color="#ffff20")
text(316, 400, f"强弱分界: {threshold:.2f}", color="#ffffff")

# extreme price labels
ann.append(dict(xref="x", yref="y", x=415, y=max(highs), text=f"{max(highs):.2f}", showarrow=True,
                ax=-38, ay=4, arrowhead=2, arrowsize=0.8, arrowwidth=1, arrowcolor="#c8c8c8",
                font=dict(family=NUM, size=13, color="#c8c8c8")))
ann.append(dict(xref="x", yref="y", x=54, y=min(lows), text=f"{min(lows):.2f}", showarrow=True,
                ax=28, ay=0, arrowhead=2, arrowsize=0.8, arrowwidth=1, arrowcolor="#c8c8c8",
                font=dict(family=NUM, size=13, color="#c8c8c8")))

# event markers
marker_bg = {"停": "#0f8686", "张": "#8e0c0c", "定": "#c4520c", "财": "#123c74",
             "解": "#0f8686", "跌": "#168416", "榜": "#8e4c12"}
for mx, mt in zip(marker_x, marker_txt):
    if mt == "$":
        ann.append(dict(xref="x", yref="paper", x=mx, y=py(383), text="<b>$</b>", showarrow=False,
                        font=dict(family=NUM, size=13, color="#ff2020")))
    else:
        ann.append(dict(xref="x", yref="paper", x=mx, y=py(383), text=mt, showarrow=False,
                        bgcolor=marker_bg[mt], borderpad=0,
                        font=dict(family=CJK, size=11, color="#ffffff")))

# month labels on the date band
text(2, 638.5, "2024年", color=LBL_RED, size=13, family=CJK)
for mx, mt in zip(month_pos, month_txt):
    ann.append(dict(xref="x2", yref="paper", x=mx, y=py(638.5), xshift=2, text=mt, showarrow=False,
                    xanchor="left", yanchor="middle", font=dict(family=NUM, size=14, color=LBL_RED)))

# watermark
text(1049, 619, "<b>乐淘公式网</b>", color="#ffffff", size=19, anchor="center")
text(1046, 640, "<b>www.60lt.com</b>", color="#ffffff", size=14, anchor="center",
     family="Liberation Serif, DejaVu Serif")

fig.update_layout(shapes=shapes, annotations=ann)
fig.write_html("out.html", config={"displayModeBar": False},
               post_script="document.body.style.margin='0';document.body.style.overflow='hidden';")
